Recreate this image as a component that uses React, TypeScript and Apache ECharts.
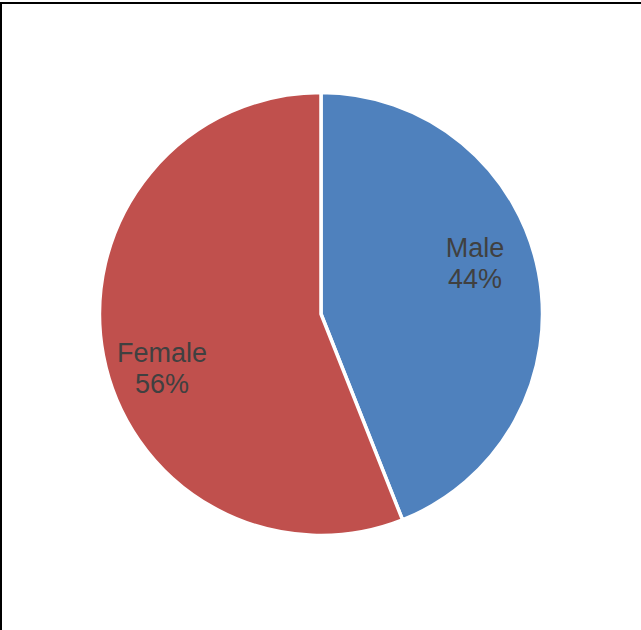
import React, { useEffect, useRef } from "react";
import * as echarts from "echarts";

const categories = ["Male", "Female"];
const values = [44, 56];
const colors = ["#4F81BD", "#C0504D"];

export default function App() {
  const ref = useRef<HTMLDivElement>(null);
  useEffect(() => {
    document.body.style.margin = "0";
    const chart = echarts.init(ref.current!, null, { renderer: "svg" });
    const labelPos: Record<number, [number, number]> = {
      0: [475, 263],
      1: [162, 368],
    };
    chart.setOption({
      animation: false,
      backgroundColor: "#ffffff",
      graphic: [
        { type: "rect", shape: { x: 0, y: 2, width: 641, height: 2 }, style: { fill: "#000" } },
        { type: "rect", shape: { x: 0, y: 2, width: 2, height: 628 }, style: { fill: "#000" } },
      ],
      series: [
        {
          type: "pie",
          center: [321, 314],
          radius: [0, 221.5],
          startAngle: 90,
          clockwise: true,
          itemStyle: { borderColor: "#ffffff", borderWidth: 3.5 },
          label: {
            show: true,
            position: "inside",
            formatter: (p: any) => `${p.name}\n${p.value}%`,
            color: "#404040",
            fontFamily: "Liberation Sans, Arial, sans-serif",
            fontSize: 27,
            lineHeight: 31,
            align: "center",
          },
          labelLine: { show: false },
          labelLayout: (p: any) => {
            const pos = labelPos[p.dataIndex];
            return { x: pos[0], y: pos[1], align: "center", verticalAlign: "middle" };
          },
          emphasis: { disabled: true },
          data: categories.map((c, i) => ({
            name: c,
            value: values[i],
            itemStyle: { color: colors[i] },
          })),
        },
      ],
    });
    return () => chart.dispose();
  }, []);
  return (
    <div style={{ position: "fixed", left: 0, top: 0, width: 641, height: 630 }}>
      <div ref={ref} style={{ width: 641, height: 630 }} />
    </div>
  );
}
